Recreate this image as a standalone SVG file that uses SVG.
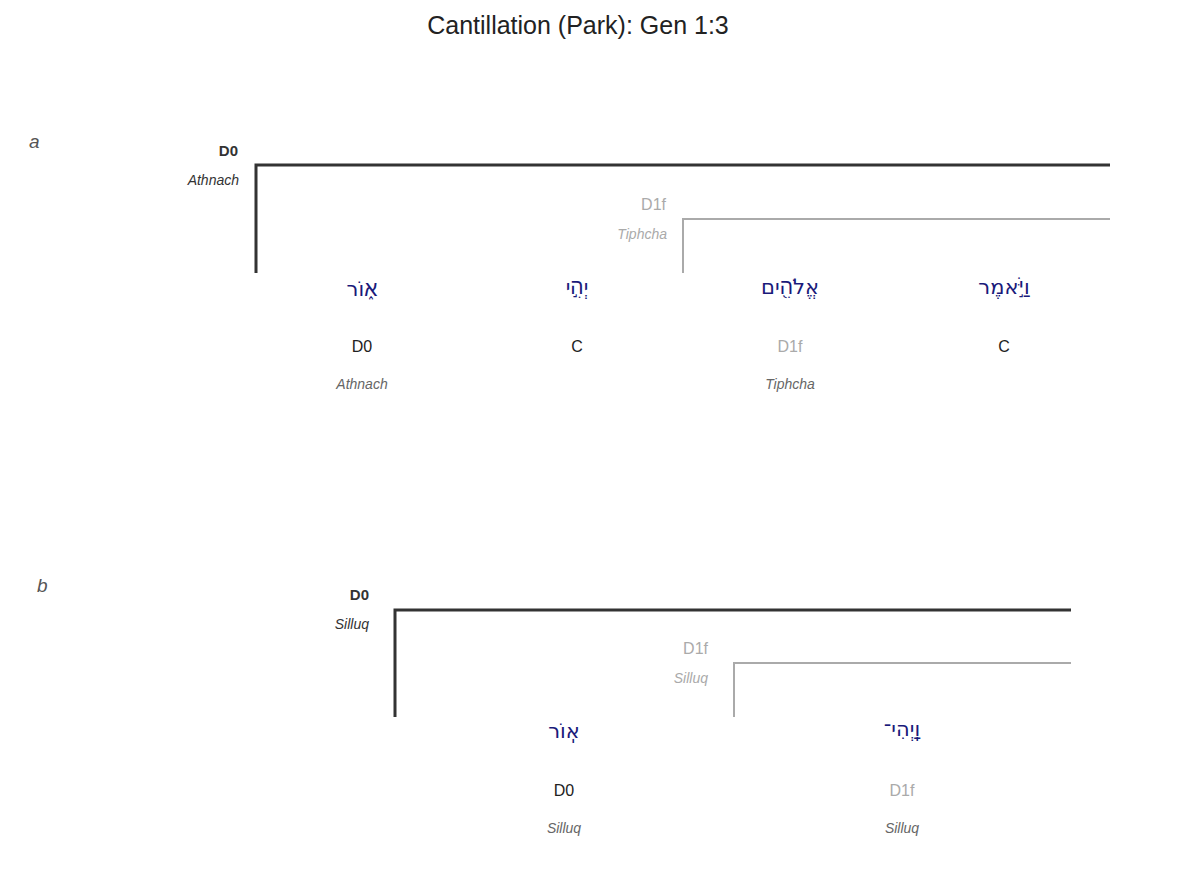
<svg xmlns="http://www.w3.org/2000/svg" width="1192" height="888" viewBox="0 0 1192 888">
<style>
text{font-family:"Liberation Sans",Arial,sans-serif}
.t{font-size:25px;fill:#222;text-anchor:middle}
.p{font-size:19px;fill:#555;font-style:italic}
.heb{font-family:"DejaVu Sans","Noto Sans",sans-serif;font-size:21px;fill:#1a1a7a;text-anchor:middle}
.c{font-size:16px;fill:#222;text-anchor:middle}
.cg{font-size:16px;fill:#aaa;text-anchor:middle}
.n{font-size:14px;fill:#666;font-style:italic;text-anchor:middle}
.lb{font-size:15px;font-weight:bold;fill:#333;text-anchor:end}
.ln{font-size:14px;font-style:italic;fill:#333;text-anchor:end}
.lg{font-size:16px;fill:#aaa;text-anchor:end}
.lgn{font-size:14px;font-style:italic;fill:#aaa;text-anchor:end}
.b0{fill:none;stroke:#333;stroke-width:3}
.b1{fill:none;stroke:#aaa;stroke-width:2}
</style>
<rect width="1192" height="888" fill="#fff"/>
<text class="t" x="578" y="34">Cantillation (Park): Gen 1:3</text>
<text class="p" x="29" y="148">a</text>
<text class="p" x="37" y="592">b</text>
<g id="connectors">
<path class="b0" d="M256,273 V165 H1110"/>
<path class="b1" d="M683,273 V219 H1110"/>
<path class="b0" d="M395,717 V610 H1071"/>
<path class="b1" d="M734,717 V663 H1071"/>
</g>
<g id="a-labels">
<text class="lb" x="238" y="156">D0</text>
<text class="ln" x="239" y="185">Athnach</text>
<text class="lg" x="666" y="210">D1f</text>
<text class="lgn" x="667" y="239">Tiphcha</text>
</g>
<g id="a-w1"><text class="heb" x="362" y="296">א֑וֹר</text><text class="c" x="362" y="352">D0</text><text class="n" x="362" y="389">Athnach</text></g>
<g id="a-w2"><text class="heb" x="577" y="294">יְהִ֣י</text><text class="c" x="577" y="352">C</text></g>
<g id="a-w3"><text class="heb" x="790" y="294">אֱלֹהִ֖ים</text><text class="cg" x="790" y="352">D1f</text><text class="n" x="790" y="389">Tiphcha</text></g>
<g id="a-w4"><text class="heb" x="1004" y="294">וַיֹּ֣אמֶר</text><text class="c" x="1004" y="352">C</text></g>
<g id="b-labels">
<text class="lb" x="369" y="600">D0</text>
<text class="ln" x="369" y="629">Silluq</text>
<text class="lg" x="708" y="654">D1f</text>
<text class="lgn" x="708" y="683">Silluq</text>
</g>
<g id="b-w1"><text class="heb" x="564" y="738">אֽוֹר</text><text class="c" x="564" y="796">D0</text><text class="n" x="564" y="833">Silluq</text></g>
<g id="b-w2"><text class="heb" x="902" y="736">וַֽיְהִי־</text><text class="cg" x="902" y="796">D1f</text><text class="n" x="902" y="833">Silluq</text></g>
</svg>
